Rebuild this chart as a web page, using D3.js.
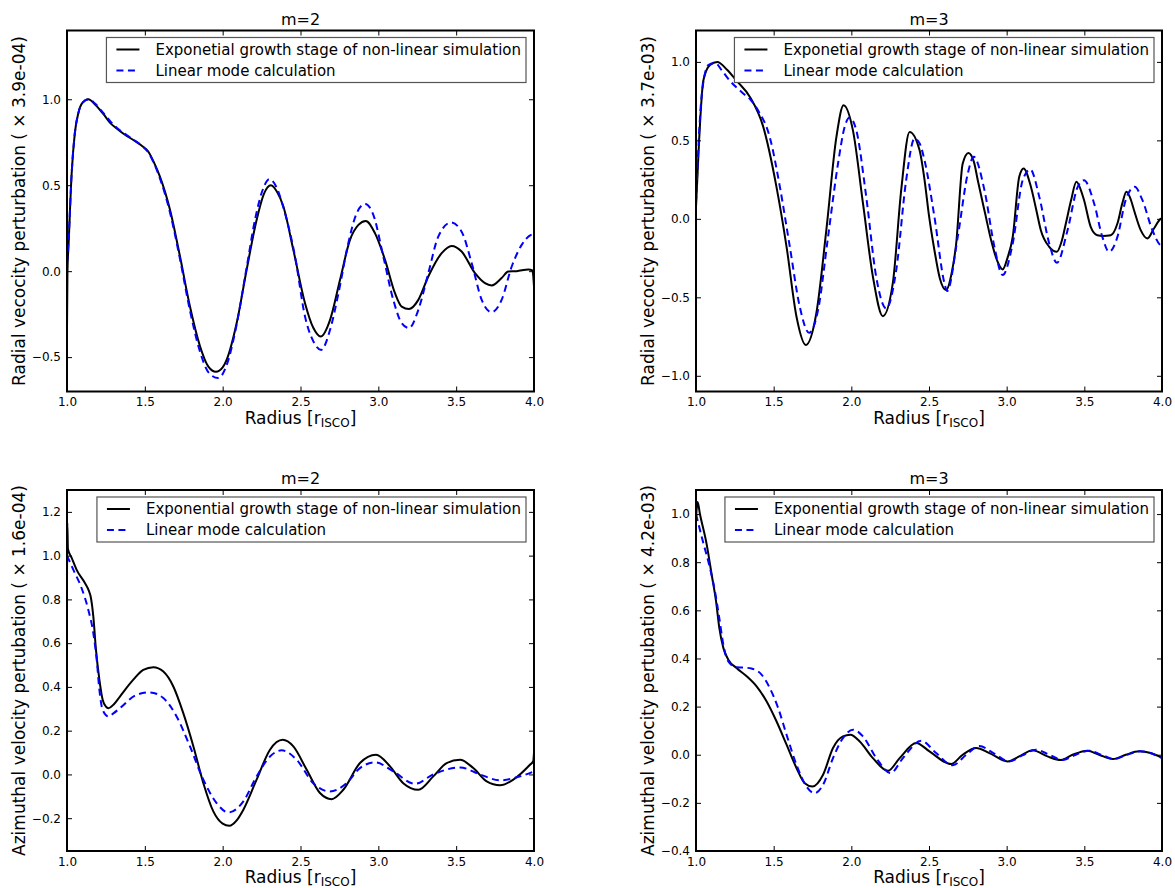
<!DOCTYPE html>
<html><head><meta charset="utf-8">
<script src="https://cdn.jsdelivr.net/npm/d3@7"></script>
<style>
html,body{margin:0;padding:0;background:#fff;}
svg{display:block;font-family:"DejaVu Sans",sans-serif;}
</style></head>
<body><svg id="c" width="1175" height="888"></svg>
<script>
// ---------- DATA ----------
const xTicks = [1.0, 1.5, 2.0, 2.5, 3.0, 3.5, 4.0];
const titles = ["m=2", "m=3", "m=2", "m=3"];
const yLabels = [
  "Radial vecocity perturbation ( \u00d7 3.9e-04)",
  "Radial vecocity perturbation ( \u00d7 3.7e-03)",
  "Azimuthal velocity pertubation ( \u00d7 1.6e-04)",
  "Azimuthal velocity pertubation ( \u00d7 4.2e-03)"
];
const legendNonlinear = [
  "Exponetial growth stage of non-linear simulation",
  "Exponetial growth stage of non-linear simulation",
  "Exponential growth stage of non-linear simulation",
  "Exponential growth stage of non-linear simulation"
];
const legendLinear = "Linear mode calculation";
const yTicksA = [-0.5, 0.0, 0.5, 1.0];
const yTicksB = [-1.0, -0.5, 0.0, 0.5, 1.0];
const yTicksC = [-0.2, 0.0, 0.2, 0.4, 0.6, 0.8, 1.0, 1.2];
const yTicksD = [-0.4, -0.2, 0.0, 0.2, 0.4, 0.6, 0.8, 1.0];
const yDomA = [-0.7, 1.4], yDomB = [-1.1, 1.2], yDomC = [-0.35, 1.3], yDomD = [-0.4, 1.1];

const radialM2Nonlinear = [[1.000,-0.33],[1.003,0.0],[1.010,0.15],[1.030,0.57],[1.050,0.80],[1.073,0.92],[1.100,0.98],[1.137,1.0],[1.180,0.97],[1.233,0.915],[1.280,0.86],[1.319,0.83],[1.370,0.795],[1.426,0.763],[1.480,0.73],[1.523,0.695],[1.560,0.63],[1.597,0.55],[1.662,0.356],[1.726,0.085],[1.790,-0.206],[1.855,-0.438],[1.908,-0.555],[1.957,-0.585],[2.000,-0.56],[2.026,-0.515],[2.090,-0.302],[2.154,0.008],[2.218,0.298],[2.265,0.45],[2.310,0.50],[2.350,0.46],[2.390,0.376],[2.454,0.124],[2.529,-0.186],[2.583,-0.331],[2.630,-0.38],[2.690,-0.283],[2.754,-0.05],[2.818,0.182],[2.872,0.269],[2.919,0.292],[2.979,0.22],[3.043,0.066],[3.107,-0.128],[3.150,-0.206],[3.197,-0.22],[3.257,-0.167],[3.321,-0.031],[3.407,0.105],[3.471,0.147],[3.535,0.114],[3.621,-0.012],[3.685,-0.07],[3.728,-0.083],[3.792,-0.04],[3.835,-0.002],[3.889,0.0],[3.964,0.01],[3.990,0.005],[4.0,-0.09]];
const radialM2Linear = [[1.000,0.05],[1.010,0.18],[1.030,0.57],[1.050,0.80],[1.073,0.92],[1.100,0.98],[1.140,1.0],[1.180,0.975],[1.233,0.92],[1.280,0.87],[1.319,0.835],[1.370,0.80],[1.426,0.765],[1.480,0.73],[1.523,0.69],[1.560,0.625],[1.597,0.54],[1.662,0.34],[1.726,0.07],[1.790,-0.23],[1.855,-0.47],[1.910,-0.59],[1.972,-0.622],[2.020,-0.56],[2.090,-0.31],[2.150,0.0],[2.210,0.31],[2.260,0.48],[2.300,0.535],[2.345,0.49],[2.390,0.37],[2.465,0.085],[2.529,-0.264],[2.583,-0.409],[2.633,-0.458],[2.690,-0.341],[2.744,-0.128],[2.807,0.163],[2.861,0.337],[2.915,0.391],[2.968,0.328],[3.032,0.085],[3.096,-0.167],[3.150,-0.302],[3.197,-0.331],[3.257,-0.225],[3.321,-0.012],[3.385,0.201],[3.467,0.283],[3.535,0.23],[3.600,0.046],[3.664,-0.167],[3.728,-0.239],[3.792,-0.167],[3.857,0.027],[3.921,0.153],[3.981,0.211],[4.0,0.215]];

const radialM3Nonlinear = [[1.000,0.076],[1.020,0.50],[1.047,0.88],[1.090,0.98],[1.137,1.0],[1.200,0.95],[1.261,0.88],[1.347,0.777],[1.433,0.586],[1.518,0.204],[1.583,-0.178],[1.647,-0.624],[1.707,-0.804],[1.775,-0.6],[1.839,-0.072],[1.904,0.522],[1.950,0.724],[2.010,0.565],[2.075,0.098],[2.139,-0.369],[2.203,-0.62],[2.267,-0.41],[2.321,0.183],[2.375,0.554],[2.439,0.438],[2.471,0.25],[2.500,0.02],[2.535,-0.2],[2.570,-0.38],[2.610,-0.454],[2.645,-0.35],[2.675,-0.157],[2.717,0.353],[2.754,0.42],[2.790,0.36],[2.814,0.246],[2.860,0.04],[2.900,-0.136],[2.940,-0.27],[2.974,-0.322],[3.005,-0.25],[3.039,-0.115],[3.081,0.268],[3.109,0.321],[3.156,0.204],[3.190,0.06],[3.220,-0.072],[3.274,-0.178],[3.323,-0.21],[3.355,-0.14],[3.381,-0.03],[3.415,0.12],[3.449,0.236],[3.475,0.19],[3.498,0.12],[3.541,-0.051],[3.584,-0.105],[3.620,-0.11],[3.670,-0.105],[3.713,-0.03],[3.745,0.1],[3.771,0.172],[3.800,0.12],[3.820,0.055],[3.863,-0.072],[3.906,-0.125],[3.949,-0.06],[3.991,0.0],[4.0,0.005]];
const radialM3Linear = [[1.000,0.1],[1.036,0.78],[1.079,0.98],[1.122,0.994],[1.170,0.94],[1.218,0.88],[1.304,0.799],[1.350,0.76],[1.400,0.69],[1.475,0.52],[1.540,0.204],[1.604,-0.178],[1.668,-0.56],[1.728,-0.726],[1.786,-0.58],[1.850,-0.115],[1.914,0.35],[1.957,0.586],[1.989,0.645],[2.032,0.565],[2.096,0.14],[2.160,-0.369],[2.225,-0.571],[2.289,-0.327],[2.353,0.247],[2.407,0.512],[2.440,0.48],[2.471,0.374],[2.535,0.013],[2.600,-0.412],[2.617,-0.46],[2.685,-0.115],[2.750,0.29],[2.788,0.395],[2.857,0.183],[2.921,-0.178],[2.974,-0.358],[3.039,-0.157],[3.103,0.246],[3.152,0.315],[3.210,0.14],[3.274,-0.157],[3.323,-0.28],[3.392,-0.072],[3.456,0.2],[3.498,0.246],[3.563,0.098],[3.616,-0.115],[3.659,-0.21],[3.713,-0.115],[3.766,0.119],[3.824,0.204],[3.874,0.119],[3.938,-0.072],[3.991,-0.17],[4.0,-0.175]];

const azimM2Nonlinear = [[1.000,0.88],[1.002,1.15],[1.006,1.03],[1.030,0.99],[1.062,0.935],[1.116,0.874],[1.140,0.84],[1.152,0.813],[1.169,0.722],[1.186,0.57],[1.208,0.433],[1.229,0.341],[1.250,0.31],[1.266,0.303],[1.300,0.32],[1.340,0.356],[1.426,0.433],[1.490,0.478],[1.555,0.49],[1.619,0.47],[1.683,0.402],[1.747,0.28],[1.812,0.128],[1.876,-0.04],[1.940,-0.169],[2.000,-0.225],[2.043,-0.235],[2.090,-0.21],[2.133,-0.161],[2.218,-0.024],[2.304,0.113],[2.386,0.158],[2.454,0.128],[2.540,0.021],[2.625,-0.085],[2.700,-0.113],[2.775,-0.07],[2.882,0.052],[2.985,0.09],[3.075,0.037],[3.160,-0.04],[3.257,-0.07],[3.353,-0.009],[3.439,0.052],[3.525,0.067],[3.610,0.029],[3.696,-0.032],[3.782,-0.05],[3.867,-0.024],[3.974,0.044],[3.995,0.06],[4.0,0.1]];
const azimM2Linear = [[1.000,1.0],[1.041,0.935],[1.094,0.851],[1.137,0.752],[1.169,0.646],[1.191,0.524],[1.208,0.387],[1.229,0.295],[1.266,0.265],[1.300,0.28],[1.340,0.303],[1.447,0.364],[1.533,0.375],[1.619,0.349],[1.704,0.265],[1.790,0.128],[1.876,-0.024],[1.961,-0.131],[2.036,-0.174],[2.133,-0.123],[2.218,-0.009],[2.304,0.082],[2.379,0.11],[2.475,0.067],[2.582,-0.04],[2.689,-0.078],[2.796,-0.04],[2.882,0.029],[2.979,0.055],[3.096,0.014],[3.235,-0.043],[3.353,0.0],[3.525,0.032],[3.653,0.0],[3.782,-0.027],[3.910,-0.009],[4.0,0.014]];

const azimM3Nonlinear = [[1.000,0.98],[1.010,1.05],[1.026,0.998],[1.069,0.873],[1.101,0.748],[1.129,0.638],[1.150,0.527],[1.176,0.444],[1.208,0.395],[1.261,0.36],[1.326,0.326],[1.390,0.284],[1.454,0.222],[1.518,0.139],[1.583,0.042],[1.647,-0.055],[1.700,-0.118],[1.750,-0.132],[1.818,-0.083],[1.882,0.028],[1.946,0.076],[1.994,0.083],[2.054,0.055],[2.139,-0.014],[2.236,-0.067],[2.311,-0.014],[2.418,0.049],[2.503,0.014],[2.642,-0.039],[2.717,0.0],[2.803,0.028],[2.889,0.007],[3.006,-0.028],[3.081,-0.007],[3.167,0.019],[3.263,-0.007],[3.349,-0.022],[3.424,0.0],[3.520,0.017],[3.595,0.0],[3.685,-0.018],[3.767,0.0],[3.852,0.014],[3.927,0.007],[4.0,-0.013]];
const azimM3Linear = [[1.000,1.0],[1.047,0.88],[1.090,0.776],[1.122,0.679],[1.150,0.568],[1.176,0.457],[1.208,0.388],[1.261,0.363],[1.310,0.362],[1.357,0.358],[1.422,0.333],[1.475,0.277],[1.529,0.194],[1.583,0.083],[1.647,-0.042],[1.711,-0.132],[1.764,-0.16],[1.818,-0.125],[1.882,-0.014],[1.946,0.069],[2.011,0.104],[2.075,0.076],[2.161,-0.014],[2.253,-0.076],[2.332,-0.014],[2.450,0.058],[2.546,0.007],[2.653,-0.044],[2.740,0.0],[2.824,0.036],[2.920,0.005],[3.017,-0.028],[3.100,-0.003],[3.188,0.021],[3.275,0.0],[3.360,-0.022],[3.445,0.0],[3.531,0.017],[3.610,0.0],[3.692,-0.018],[3.775,0.0],[3.863,0.014],[4.0,-0.014]];

// ---------- LAYOUT ----------
const cols = [[67, 534], [696, 1162]];
const rows = [[30.5, 391.5], [490, 851]];
const panels = [
  {c:0, r:0, yDom:yDomA, yTicks:yTicksA, nl:radialM2Nonlinear, lin:radialM2Linear},
  {c:1, r:0, yDom:yDomB, yTicks:yTicksB, nl:radialM3Nonlinear, lin:radialM3Linear},
  {c:0, r:1, yDom:yDomC, yTicks:yTicksC, nl:azimM2Nonlinear, lin:azimM2Linear},
  {c:1, r:1, yDom:yDomD, yTicks:yTicksD, nl:azimM3Nonlinear, lin:azimM3Linear}
];

const svg = d3.select("#c");
const fmt = d3.format(".1f");

panels.forEach((p, i) => {
  const [x0, x1] = cols[p.c], [y0, y1] = rows[p.r];
  const x = d3.scaleLinear().domain([1, 4]).range([x0, x1]);
  const y = d3.scaleLinear().domain(p.yDom).range([y1, y0]);
  const g = svg.append("g");

  g.append("clipPath").attr("id", "clip" + i)
    .append("rect").attr("x", x0).attr("y", y0).attr("width", x1 - x0).attr("height", y1 - y0);

  const line = d3.line().x(d => x(d[0])).y(d => y(d[1])).curve(d3.curveMonotoneX);
  const plot = g.append("g").attr("clip-path", `url(#clip${i})`);
  plot.append("path").datum(p.nl).attr("d", line)
    .attr("fill", "none").attr("stroke", "#000").attr("stroke-width", 2);
  plot.append("path").datum(p.lin).attr("d", line)
    .attr("fill", "none").attr("stroke", "#0000ff").attr("stroke-width", 2)
    .attr("stroke-dasharray", "7,4.5");

  // axes (ticks inside on all four sides)
  const styleAx = sel => {
    sel.select(".domain").remove();
    sel.selectAll(".tick line").attr("stroke", "#000").attr("stroke-width", 1);
    sel.selectAll(".tick text").attr("font-size", 12).attr("fill", "#000")
      .attr("font-family", "DejaVu Sans, sans-serif");
  };
  g.append("g").attr("transform", `translate(0,${y1})`)
    .call(d3.axisBottom(x).tickValues(xTicks).tickFormat(fmt).tickSize(-5).tickPadding(6)).call(styleAx);
  g.append("g").attr("transform", `translate(0,${y0})`)
    .call(d3.axisTop(x).tickValues(xTicks).tickFormat("").tickSize(-5)).call(styleAx);
  g.append("g").attr("transform", `translate(${x0},0)`)
    .call(d3.axisLeft(y).tickValues(p.yTicks).tickFormat(fmt).tickSize(-5).tickPadding(6)).call(styleAx);
  g.append("g").attr("transform", `translate(${x1},0)`)
    .call(d3.axisRight(y).tickValues(p.yTicks).tickFormat("").tickSize(-5)).call(styleAx);

  g.append("rect").attr("x", x0).attr("y", y0).attr("width", x1 - x0).attr("height", y1 - y0)
    .attr("fill", "none").attr("stroke", "#000").attr("stroke-width", 2);

  // title
  g.append("text").attr("x", (x0 + x1) / 2).attr("y", y0 - 6).attr("text-anchor", "middle")
    .attr("font-size", 16).text(titles[i]);

  // x label
  const xl = g.append("text").attr("x", (x0 + x1) / 2).attr("y", y1 + 32)
    .attr("text-anchor", "middle").attr("font-size", 17);
  xl.append("tspan").text("Radius [r");
  xl.append("tspan").attr("font-size", 12).attr("dy", 3).text("ISCO");
  xl.append("tspan").attr("dy", -3).text("]");

  // y label
  g.append("text").attr("transform", `translate(${x0 - 42},${(y0 + y1) / 2}) rotate(-90)`)
    .attr("text-anchor", "middle").attr("font-size", 17).text(yLabels[i]);

  // legend
  const lg = g.append("g");
  const box = lg.append("rect").attr("fill", "#fff").attr("stroke", "#555").attr("stroke-width", 1.2);
  const t1 = lg.append("text").attr("font-size", 15).attr("dy", "0.35em").text(legendNonlinear[i]);
  const t2 = lg.append("text").attr("font-size", 15).attr("dy", "0.35em").text(legendLinear);
  const tw = t1.node().getComputedTextLength();
  const bw = 49 + tw + 5, bh = 45;
  const bx = x1 - 8 - bw, by = y0 + 7;
  box.attr("x", bx).attr("y", by).attr("width", bw).attr("height", bh);
  t1.attr("x", bx + 49).attr("y", by + 12);
  t2.attr("x", bx + 49).attr("y", by + 33);
  lg.append("line").attr("x1", bx + 10).attr("x2", bx + 33).attr("y1", by + 12).attr("y2", by + 12)
    .attr("stroke", "#000").attr("stroke-width", 2);
  lg.append("line").attr("x1", bx + 10).attr("x2", bx + 33).attr("y1", by + 33).attr("y2", by + 33)
    .attr("stroke", "#0000ff").attr("stroke-width", 2).attr("stroke-dasharray", "7,4.5");
});
</script></body></html>
